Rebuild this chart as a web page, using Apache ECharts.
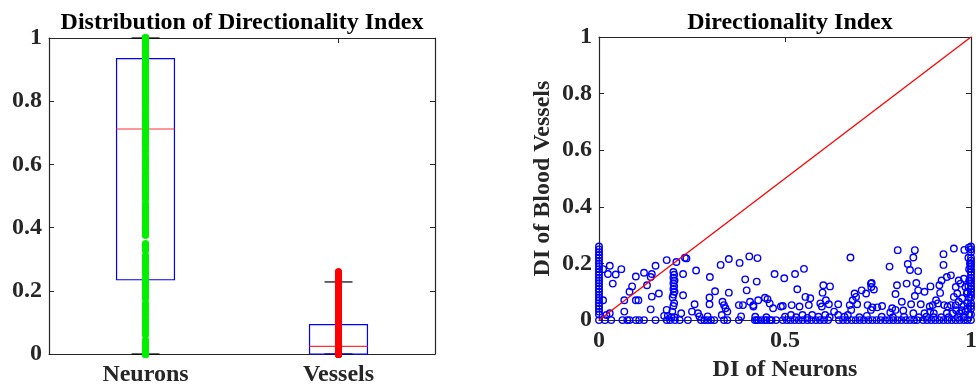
<!DOCTYPE html>
<html>
<head>
<meta charset="utf-8">
<script src="https://cdn.jsdelivr.net/npm/echarts@6/dist/echarts.min.js"></script>
<style>
html,body{margin:0;padding:0;background:#fff;}
#chart{width:980px;height:387px;}
</style>
</head>
<body>
<div id="chart"></div>
<script>
// ---------------- data ----------------
const categories = ['Neurons', 'Vessels'];
// box statistics: [lower whisker, q1, median, q3, upper whisker]
const neuronBox = [0, 0.235, 0.712, 0.935, 1.0];
const vesselBox = [0, 0.0, 0.024, 0.093, 0.228];
const yTicks = [0, 0.2, 0.4, 0.6, 0.8, 1];
const xTicksRight = [0, 0.5, 1];
const refLineX = [0, 1];
const refLineY = [0, 1];

// paired directionality index values: [DI of neurons, DI of blood vessels]
const pairsAtZero = [
  [0,0],[0,0.02],[0,0.03],[0,0.04],[0,0.05],[0,0.06],[0,0.07],[0,0.08],[0,0.09],[0,0.10],
  [0,0.11],[0,0.12],[0,0.13],[0,0.14],[0,0.15],[0,0.16],[0,0.17],[0,0.18],[0,0.19],[0,0.20],
  [0,0.21],[0,0.22],[0,0.23],[0,0.24],[0,0.25],[0,0.26]
];
const pairsLow = [
  [0.029,0.192],[0.06,0.18],[0.011,0.18],[0.024,0.163],[0.045,0.161],[0.037,0.129],[0.011,0.07],
  [0.029,0.024],[0.02,0.018],[0.068,0.03],[0.099,0.154],[0.121,0.167],[0.089,0.119],[0.082,0.1],
  [0.068,0.07],[0.099,0.07],[0.106,0.07],[0.139,0.152],[0.152,0.192],[0.142,0.163],[0.129,0.123],
  [0.142,0.083],[0.161,0.094],[0.139,0.038],[0.182,0.212],[0.208,0.205],[0.182,0.036],[0.175,0.015],
  [0.185,0.015],[0.195,0.01],[0.221,0.024],[0.231,0.22],
  [0.2,0.17],[0.202,0.16],[0.2,0.15],[0.203,0.14],[0.2,0.13],[0.202,0.12],[0.2,0.11],[0.203,0.1],
  [0.2,0.09],[0.198,0.08],[0.202,0.06],[0.2,0.05],[0.197,0.03],[0.203,0.01]
];
const pairsMid = [
  [0.235,0.218],[0.226,0.163],[0.261,0.175],[0.298,0.152],[0.327,0.195],[0.349,0.216],[0.378,0.202],
  [0.404,0.225],[0.426,0.219],[0.393,0.144],[0.397,0.105],[0.472,0.163],[0.226,0.088],[0.312,0.102],
  [0.349,0.097],[0.297,0.08],[0.297,0.056],[0.257,0.056],[0.332,0.065],[0.336,0.053],[0.34,0.042],
  [0.376,0.053],[0.387,0.053],[0.406,0.065],[0.428,0.07],[0.446,0.079],[0.453,0.074],[0.459,0.059],
  [0.468,0.042],[0.415,0.053],[0.266,0.024],[0.27,0.013],[0.292,0.013],[0.33,0.018],[0.345,0.03],
  [0.382,0.013],[0.489,0.048],[0.415,0.048],[0.424,0.136],[0.25,0.03],
  [0.498,0.148],[0.527,0.163],[0.551,0.181],[0.676,0.221],[0.533,0.109],[0.603,0.123],[0.621,0.119],
  [0.601,0.097],[0.555,0.082],[0.568,0.077],[0.494,0.05],[0.518,0.053],[0.539,0.048],[0.564,0.053],
  [0.595,0.059],[0.599,0.048],[0.61,0.07],[0.618,0.056],[0.643,0.056],[0.674,0.053],[0.687,0.094],
  [0.691,0.082],[0.682,0.07],[0.706,0.105],[0.718,0.094],[0.694,0.056],[0.678,0.036],[0.731,0.129],
  [0.732,0.117],[0.722,0.053],[0.731,0.036],[0.516,0.018],[0.547,0.018],[0.573,0.018],[0.608,0.018],
  [0.643,0.018],[0.669,0.018],[0.632,0.03]
];
const pairsHigh = [
  [0.803,0.247],[0.849,0.247],[0.845,0.221],[0.954,0.253],[0.982,0.248],[0.926,0.233],[0.781,0.189],
  [0.83,0.198],[0.836,0.177],[0.858,0.173],[0.926,0.195],[0.733,0.131],[0.739,0.108],[0.801,0.123],
  [0.827,0.129],[0.853,0.131],[0.858,0.105],[0.849,0.085],[0.891,0.119],[0.875,0.1],[0.797,0.092],
  [0.915,0.123],[0.921,0.14],[0.935,0.152],[0.946,0.158],[0.917,0.096],[0.814,0.065],[0.839,0.056],
  [0.865,0.056],[0.735,0.045],[0.748,0.045],[0.761,0.05],[0.788,0.042],[0.797,0.036],[0.783,0.027],
  [0.818,0.034],[0.845,0.024],[0.889,0.048],[0.897,0.053],[0.906,0.07],[0.911,0.059],[0.928,0.053],
  [0.937,0.048],[0.946,0.053],[0.959,0.117],[0.963,0.094],[0.954,0.082],[0.967,0.14],[0.972,0.129],
  [0.981,0.146],[0.985,0.117],[0.989,0.094],[0.976,0.077],[0.967,0.065],[0.959,0.053],[0.994,0.256],
  [0.95,0.024],[0.97,0.024],[0.985,0.03],[0.935,0.024],[0.9,0.024],[0.875,0.024],[0.89,0.03],
  [0.99,0.06],[0.995,0.08],[0.99,0.1],[0.993,0.12],[0.995,0.14],[0.99,0.04],[0.98,0.05],[0.975,0.035],
  [0.995,0.02],[0.98,0.012],[0.965,0.01],[0.94,0.01],[0.92,0.01],[0.96,0.035],[0.995,0.18],
  [0.997,0.2],[0.993,0.22]
];
const pairsAtOne = [
  [1,0],[1,0.02],[1,0.04],[1,0.05],[1,0.06],[1,0.08],[1,0.09],[1,0.1],[1,0.11],[1,0.12],[1,0.13],
  [1,0.14],[1,0.15],[1,0.16],[1,0.17],[1,0.18],[1,0.19],[1,0.2],[1,0.21],[1,0.22],[1,0.24],[1,0.25],[1,0.26]
];
const pairsNearFloor = [
  [0.42,0.012],[0.45,0.01],[0.5,0.012],[0.53,0.01],[0.56,0.008],[0.59,0.012],[0.62,0.01],[0.66,0.012],
  [0.7,0.01],[0.72,0.015],[0.76,0.012],[0.79,0.01],[0.82,0.012],[0.86,0.01],[0.88,0.012],[0.9,0.01]
];
// neurons DI values whose vessel DI is zero
const neuronsAtVesselZero = [
  0.016,0.033,0.063,0.076,0.082,0.099,0.108,0.121,0.152,0.182,0.191,0.204,0.217,0.239,0.274,0.283,
  0.292,0.301,0.31,0.336,0.345,0.376,0.419,0.424,0.428,0.437,0.446,0.45,0.459,0.464,0.476,
  0.494,0.505,0.515,0.526,0.537,0.548,0.56,0.571,0.583,0.594,0.605,0.616,
  0.645,0.656,0.667,0.679,0.69,0.701,0.712,0.724,0.735,0.746,0.757,0.769,0.78,0.791,0.802,0.813,
  0.825,0.836,0.847,0.855,0.871,0.882,0.893,0.904,0.915,0.926,0.937,0.948,0.959,0.97,0.981,0.99
];

// ---------------- build ----------------
const allPairs = [].concat(
  pairsAtZero, pairsLow, pairsMid, pairsHigh, pairsAtOne, pairsNearFloor,
  neuronsAtVesselZero.map(v => [v, 0])
);
const neuronDI = allPairs.map(p => p[0]);
const vesselDI = allPairs.map(p => p[1]);

const AX = '#262626';
const FONT = 'Liberation Serif';
const labelStyle = { color: AX, fontFamily: FONT, fontWeight: 'bold', fontSize: 24 };

function renderBox(params, api) {
  const i = api.value(0);
  const band = api.size([1, 0])[0];
  const bw = band * 0.3, cw = band * 0.145;
  const pMin = api.coord([i, api.value(1)]);
  const pQ1 = api.coord([i, api.value(2)]);
  const pMed = api.coord([i, api.value(3)]);
  const pQ3 = api.coord([i, api.value(4)]);
  const pMax = api.coord([i, api.value(5)]);
  const x = pMin[0];
  const black = { stroke: '#000', lineWidth: 1.2 };
  const dashed = { stroke: '#000', lineWidth: 1, lineDash: [4, 3] };
  return {
    type: 'group',
    children: [
      { type: 'line', shape: { x1: x, y1: pQ3[1], x2: x, y2: pMax[1] }, style: dashed },
      { type: 'line', shape: { x1: x, y1: pMin[1], x2: x, y2: pQ1[1] }, style: dashed },
      { type: 'line', shape: { x1: x - cw / 2, y1: pMax[1], x2: x + cw / 2, y2: pMax[1] }, style: black },
      { type: 'line', shape: { x1: x - cw / 2, y1: pMin[1], x2: x + cw / 2, y2: pMin[1] }, style: black },
      { type: 'rect', shape: { x: x - bw / 2, y: pQ3[1], width: bw, height: pQ1[1] - pQ3[1] },
        style: { fill: 'none', stroke: '#0000ff', lineWidth: 1.2 } },
      { type: 'line', shape: { x1: x - bw / 2, y1: pMed[1], x2: x + bw / 2, y2: pMed[1] },
        style: { stroke: '#ff3030', lineWidth: 1.2 } }
    ]
  };
}

const chart = echarts.init(document.getElementById('chart'), null, { renderer: 'canvas' });

const frameAxis = (extra) => Object.assign({
  axisLine: { show: true, onZero: false, lineStyle: { color: AX, width: 1.2 } },
  axisTick: { show: true, inside: true, length: 5, lineStyle: { color: AX, width: 1 } },
  splitLine: { show: false }
}, extra);

const option = {
  animation: false,
  backgroundColor: '#ffffff',
  graphic: [
    { type: 'text', x: 242, y: 23, style: { text: 'Distribution of Directionality Index', textAlign: 'center', textVerticalAlign: 'middle',
      fill: '#000', font: 'bold 24px "Liberation Serif"' } },
    { type: 'text', x: 790, y: 23, style: { text: 'Directionality Index', textAlign: 'center', textVerticalAlign: 'middle',
      fill: '#000', font: 'bold 24px "Liberation Serif"' } }
  ],
  grid: [
    { left: 49, top: 38, width: 386, height: 319, containLabel: false },
    { left: 599, top: 37, width: 380, height: 290, containLabel: false }
  ],
  xAxis: [
    frameAxis({ gridIndex: 0, type: 'category', data: categories, position: 'bottom',
      axisTick: { show: true, inside: true, length: 5, alignWithLabel: true, lineStyle: { color: AX } },
      axisLabel: Object.assign({ margin: 9 }, labelStyle) }),
    frameAxis({ gridIndex: 0, type: 'category', data: categories, position: 'top',
      axisTick: { show: true, inside: true, length: 5, alignWithLabel: true, lineStyle: { color: AX } },
      axisLabel: { show: false } }),
    frameAxis({ gridIndex: 1, type: 'value', min: 0, max: 1, interval: 0.5, position: 'bottom',
      name: 'DI of Neurons', nameLocation: 'middle', nameGap: 35,
      nameTextStyle: { color: AX, fontFamily: FONT, fontWeight: 'bold', fontSize: 24 },
      axisLabel: Object.assign({ margin: 9, formatter: v => String(xTicksRight.find(t => Math.abs(t - v) < 1e-9)) }, labelStyle) }),
    frameAxis({ gridIndex: 1, type: 'value', min: 0, max: 1, interval: 0.5, position: 'top',
      axisLabel: { show: false } })
  ],
  yAxis: [
    frameAxis({ gridIndex: 0, type: 'value', min: 0, max: 1, interval: 0.2, position: 'left',
      axisLabel: Object.assign({ margin: 7, formatter: v => String(yTicks.find(t => Math.abs(t - v) < 1e-9)) }, labelStyle) }),
    frameAxis({ gridIndex: 0, type: 'value', min: 0, max: 1, interval: 0.2, position: 'right',
      axisLabel: { show: false } }),
    frameAxis({ gridIndex: 1, type: 'value', min: 0, max: 1, interval: 0.2, position: 'left',
      name: 'DI of Blood Vessels', nameLocation: 'middle', nameGap: 44,
      nameTextStyle: { color: AX, fontFamily: FONT, fontWeight: 'bold', fontSize: 24 },
      axisLabel: Object.assign({ margin: 7, formatter: v => String(yTicks.find(t => Math.abs(t - v) < 1e-9)) }, labelStyle) }),
    frameAxis({ gridIndex: 1, type: 'value', min: 0, max: 1, interval: 0.2, position: 'right',
      axisLabel: { show: false } })
  ],
  series: [
    {
      type: 'custom', xAxisIndex: 0, yAxisIndex: 0, renderItem: renderBox,
      encode: { x: 0, y: [1, 2, 3, 4, 5] },
      data: [[0].concat(neuronBox), [1].concat(vesselBox)], z: 2, clip: false
    },
    {
      type: 'scatter', xAxisIndex: 0, yAxisIndex: 0, symbol: 'circle', symbolSize: 7,
      itemStyle: { color: '#00f000', opacity: 1 }, z: 3, clip: false,
      data: neuronDI.map(v => [0, v])
    },
    {
      type: 'scatter', xAxisIndex: 0, yAxisIndex: 0, symbol: 'circle', symbolSize: 7,
      itemStyle: { color: '#ff0000', opacity: 1 }, z: 3, clip: false,
      data: vesselDI.map(v => [1, v])
    },
    {
      type: 'scatter', xAxisIndex: 2, yAxisIndex: 2, symbol: 'circle', symbolSize: 6.5,
      itemStyle: { color: 'rgba(0,0,0,0)', borderColor: '#0000ff', borderWidth: 1.4, opacity: 1 },
      z: 3, clip: false,
      data: allPairs.map(p => [p[0], p[1]])
    },
    {
      type: 'line', xAxisIndex: 2, yAxisIndex: 2, symbol: 'none', z: 4,
      lineStyle: { color: '#ff0000', width: 1.3 },
      data: refLineX.map((x, k) => [x, refLineY[k]])
    }
  ]
};
chart.setOption(option);
</script>
</body>
</html>
